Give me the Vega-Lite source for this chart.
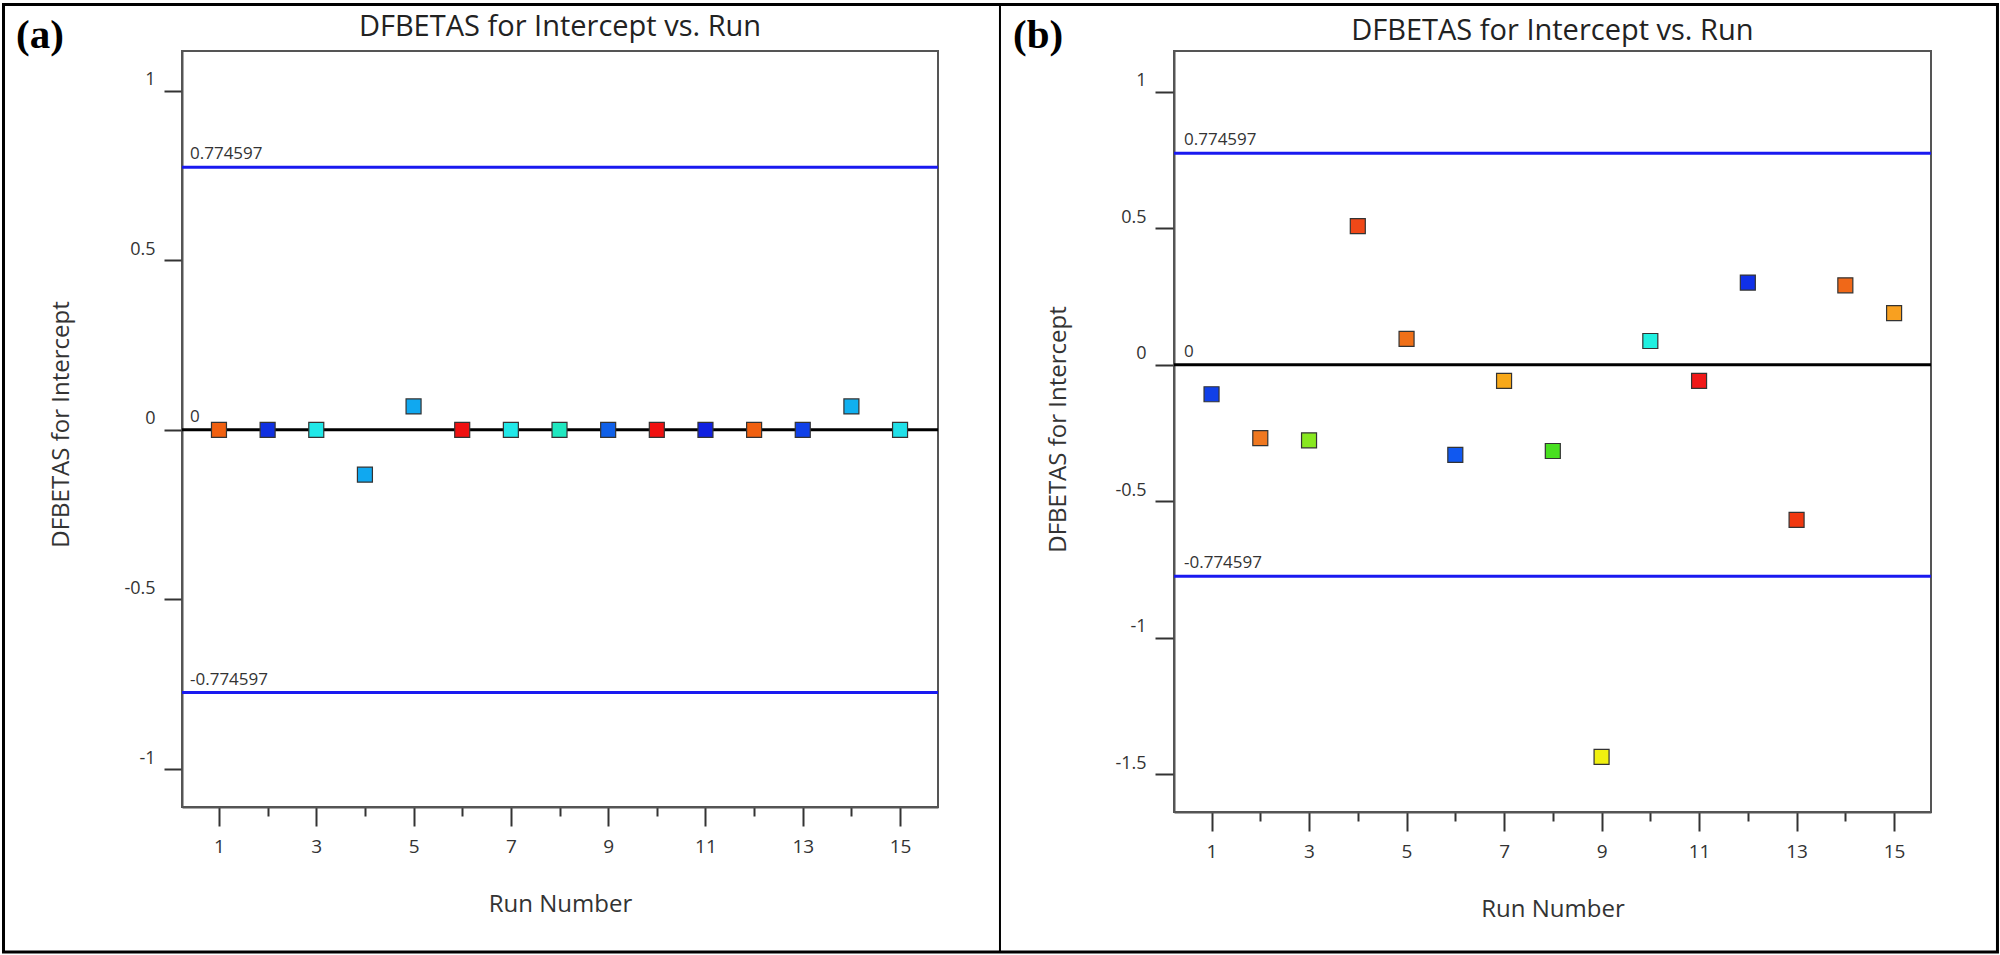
{
  "$schema": "https://vega.github.io/schema/vega-lite/v6.json",
  "autosize": {"type": "pad"},
  "padding": {"left": 1, "top": 2, "right": 0, "bottom": 0},
  "background": "white",
  "config": {
    "font": "Open Sans",
    "view": {"stroke": "#555", "strokeWidth": 2},
    "axis": {
      "grid": false,
      "domainColor": "#555",
      "domainWidth": 2,
      "tickColor": "#333",
      "tickWidth": 2,
      "labelColor": "#333",
      "labelFont": "Open Sans",
      "titleFont": "Open Sans",
      "titleColor": "#333",
      "titleFontWeight": "normal"
    }
  },
  "datasets": {
    "runsA": [
      {"Run": 1, "DFBETAS": 0},
      {"Run": 2, "DFBETAS": 0},
      {"Run": 3, "DFBETAS": 0},
      {"Run": 4, "DFBETAS": -0.132},
      {"Run": 5, "DFBETAS": 0.069},
      {"Run": 6, "DFBETAS": 0},
      {"Run": 7, "DFBETAS": 0},
      {"Run": 8, "DFBETAS": 0},
      {"Run": 9, "DFBETAS": 0},
      {"Run": 10, "DFBETAS": 0},
      {"Run": 11, "DFBETAS": 0},
      {"Run": 12, "DFBETAS": 0},
      {"Run": 13, "DFBETAS": 0},
      {"Run": 14, "DFBETAS": 0.069},
      {"Run": 15, "DFBETAS": 0}
    ],
    "runsB": [
      {"Run": 1, "DFBETAS": -0.108},
      {"Run": 2, "DFBETAS": -0.269},
      {"Run": 3, "DFBETAS": -0.277},
      {"Run": 4, "DFBETAS": 0.508},
      {"Run": 5, "DFBETAS": 0.095},
      {"Run": 6, "DFBETAS": -0.330},
      {"Run": 7, "DFBETAS": -0.059},
      {"Run": 8, "DFBETAS": -0.316},
      {"Run": 9, "DFBETAS": -1.436},
      {"Run": 10, "DFBETAS": 0.087},
      {"Run": 11, "DFBETAS": -0.059},
      {"Run": 12, "DFBETAS": 0.301},
      {"Run": 13, "DFBETAS": -0.568},
      {"Run": 14, "DFBETAS": 0.291},
      {"Run": 15, "DFBETAS": 0.189}
    ],
    "limits": [
      {"limit": 0.774597},
      {"limit": -0.774597}
    ],
    "limitLabels": [
      {"limit": 0.774597, "label": "0.774597"},
      {"limit": 0, "label": "0"},
      {"limit": -0.774597, "label": "-0.774597"}
    ]
  },
  "spacing": 236,
  "bounds": "flush",
  "resolve": {"scale": {"color": "independent"}},
  "hconcat": [
    {
      "width": 756,
      "height": 756,
      "layer": [
        {
          "data": {"values": [{}]},
          "mark": {"type": "rect", "fill": "white", "fillOpacity": 0, "stroke": "black", "strokeWidth": 3},
          "encoding": {
            "x": {"datum": -3.429},
            "x2": {"datum": 37.558},
            "y": {"datum": 1.2541},
            "y2": {"datum": -1.5395}
          }
        },
        {
          "data": {"values": [{}]},
          "mark": {"type": "rule", "color": "black", "strokeWidth": 2},
          "encoding": {
            "x": {"datum": 17.054},
            "y": {"datum": 1.2541},
            "y2": {"datum": -1.5395}
          }
        },
        {
          "data": {"values": [{}]},
          "mark": {"type": "text", "text": "(a)", "font": "Liberation Serif", "fontWeight": "bold", "fontSize": 41, "align": "left", "baseline": "alphabetic", "color": "black"},
          "encoding": {
            "x": {"datum": -3.17},
            "y": {"datum": 1.1258}
          }
        },
        {
          "data": {"values": [{}]},
          "mark": {"type": "text", "text": "DFBETAS for Intercept vs. Run", "font": "Open Sans", "fontSize": 29, "align": "center", "baseline": "alphabetic", "color": "#222"},
          "encoding": {
            "x": {"datum": 8.01},
            "y": {"datum": 1.1612}
          }
        },
        {
          "data": {"values": [{}]},
          "mark": {"type": "rule", "color": "black", "strokeWidth": 3},
          "encoding": {"y": {"datum": 0}}
        },
        {
          "data": {"name": "limits"},
          "mark": {"type": "rule", "color": "#1a1af0", "strokeWidth": 3},
          "encoding": {"y": {"field": "limit", "type": "quantitative"}}
        },
        {
          "data": {"name": "limitLabels"},
          "mark": {"type": "text", "align": "left", "baseline": "alphabetic", "dx": 8, "dy": -8, "fontSize": 17, "color": "#333"},
          "encoding": {
            "x": {"datum": 0.24},
            "y": {"field": "limit", "type": "quantitative"},
            "text": {"field": "label"}
          }
        },
        {
          "data": {"name": "runsA"},
          "mark": {"type": "square", "size": 225, "filled": true, "opacity": 1, "stroke": "#333", "strokeWidth": 1.2},
          "encoding": {
            "x": {
              "field": "Run",
              "type": "quantitative",
              "scale": {"domain": [0.24, 15.78], "nice": false, "zero": false},
              "axis": {
                "title": "Run Number",
                "values": [1, 2, 3, 4, 5, 6, 7, 8, 9, 10, 11, 12, 13, 14, 15],
                "labelExpr": "datum.value % 2 == 1 ? '' + datum.value : ''",
                "tickSize": 19,
                "tickDash": {"condition": {"test": "datum.value % 2 == 0", "value": [9, 40]}, "value": []},
                "labelFontSize": 19,
                "labelBaseline": "alphabetic",
                "labelPadding": 26,
                "labelFlush": false,
                "labelOverlap": false,
                "titleFontSize": 24,
                "titleBaseline": "alphabetic",
                "titleY": 104
              }
            },
            "y": {
              "field": "DFBETAS",
              "type": "quantitative",
              "scale": {"domain": [-1.112, 1.117], "nice": false, "zero": false},
              "axis": {
                "title": "DFBETAS for Intercept",
                "values": [-1, -0.5, 0, 0.5, 1],
                "labelExpr": "'' + datum.value",
                "tickSize": 18,
                "labelPadding": 9,
                "labelOffset": -11,
                "labelFontSize": 18,
                "labelOverlap": false,
                "titleFontSize": 24,
                "titleAngle": -90,
                "titleAlign": "center",
                "titleBaseline": "alphabetic",
                "titleX": -114,
                "titleY": 373
              }
            },
            "color": {
              "field": "Run",
              "type": "nominal",
              "legend": null,
              "scale": {
                "domain": [1, 2, 3, 4, 5, 6, 7, 8, 9, 10, 11, 12, 13, 14, 15],
                "range": ["#f06010", "#1030e0", "#20e8e8", "#10a8f0", "#10a8f0", "#f01010", "#20e8e8", "#20e8c0", "#1060e8", "#f01010", "#1020e0", "#f06010", "#1040e8", "#10b0f0", "#20e0e8"]
              }
            }
          }
        }
      ]
    },
    {
      "width": 757,
      "height": 761,
      "layer": [
        {
          "data": {"values": [{}]},
          "mark": {"type": "text", "text": "(b)", "font": "Liberation Serif", "fontWeight": "bold", "fontSize": 41, "align": "left", "baseline": "alphabetic", "color": "black"},
          "encoding": {
            "x": {"datum": -3.07},
            "y": {"datum": 1.160}
          }
        },
        {
          "data": {"values": [{}]},
          "mark": {"type": "text", "text": "DFBETAS for Intercept vs. Run", "font": "Open Sans", "fontSize": 29, "align": "center", "baseline": "alphabetic", "color": "#222"},
          "encoding": {
            "x": {"datum": 7.99},
            "y": {"datum": 1.1893}
          }
        },
        {
          "data": {"values": [{}]},
          "mark": {"type": "rule", "color": "black", "strokeWidth": 3},
          "encoding": {"y": {"datum": 0}}
        },
        {
          "data": {"name": "limits"},
          "mark": {"type": "rule", "color": "#1a1af0", "strokeWidth": 3},
          "encoding": {"y": {"field": "limit", "type": "quantitative"}}
        },
        {
          "data": {"name": "limitLabels"},
          "mark": {"type": "text", "align": "left", "baseline": "alphabetic", "dx": 10, "dy": -8, "fontSize": 17, "color": "#333"},
          "encoding": {
            "x": {"datum": 0.23},
            "y": {"field": "limit", "type": "quantitative"},
            "text": {"field": "label"}
          }
        },
        {
          "data": {"name": "runsB"},
          "mark": {"type": "square", "size": 225, "filled": true, "opacity": 1, "stroke": "#333", "strokeWidth": 1.2},
          "encoding": {
            "x": {
              "field": "Run",
              "type": "quantitative",
              "scale": {"domain": [0.23, 15.757], "nice": false, "zero": false},
              "axis": {
                "title": "Run Number",
                "values": [1, 2, 3, 4, 5, 6, 7, 8, 9, 10, 11, 12, 13, 14, 15],
                "labelExpr": "datum.value % 2 == 1 ? '' + datum.value : ''",
                "tickSize": 19,
                "tickDash": {"condition": {"test": "datum.value % 2 == 0", "value": [9, 40]}, "value": []},
                "labelFontSize": 19,
                "labelBaseline": "alphabetic",
                "labelPadding": 26,
                "labelFlush": false,
                "labelOverlap": false,
                "titleFontSize": 24,
                "titleBaseline": "alphabetic",
                "titleY": 104
              }
            },
            "y": {
              "field": "DFBETAS",
              "type": "quantitative",
              "scale": {"domain": [-1.638, 1.149], "nice": false, "zero": false},
              "axis": {
                "title": "DFBETAS for Intercept",
                "values": [-1.5, -1, -0.5, 0, 0.5, 1],
                "labelExpr": "'' + datum.value",
                "tickSize": 19,
                "labelPadding": 9,
                "labelOffset": -11,
                "labelFontSize": 18,
                "labelOverlap": false,
                "titleFontSize": 24,
                "titleAngle": -90,
                "titleAlign": "center",
                "titleBaseline": "alphabetic",
                "titleX": -109,
                "titleY": 378
              }
            },
            "color": {
              "field": "Run",
              "type": "nominal",
              "legend": null,
              "scale": {
                "domain": [1, 2, 3, 4, 5, 6, 7, 8, 9, 10, 11, 12, 13, 14, 15],
                "range": ["#1040e8", "#f07820", "#88e820", "#f04818", "#f07018", "#1058f0", "#f8a818", "#48e020", "#f0f010", "#20f0e0", "#f01818", "#1030e8", "#f03810", "#f06818", "#f8a020"]
              }
            }
          }
        }
      ]
    }
  ]
}
